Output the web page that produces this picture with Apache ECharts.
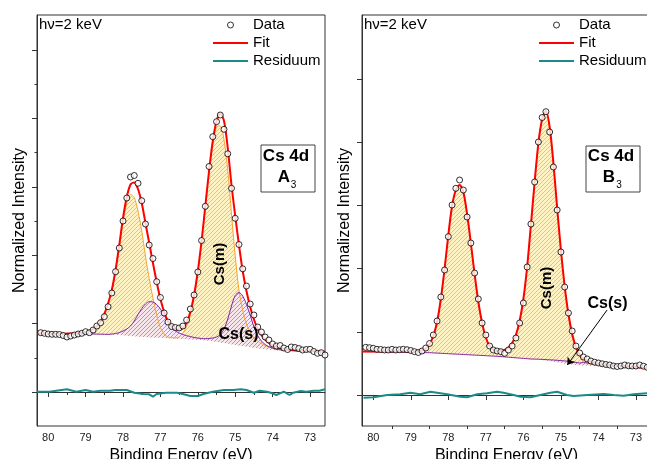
<!DOCTYPE html>
<html>
<head>
<meta charset="utf-8">
<title>Cs 4d</title>
<script src="https://cdn.jsdelivr.net/npm/echarts@6/dist/echarts.min.js"></script>
<style>
  html, body { margin: 0; padding: 0; background: #fff; }
  #main { width: 647px; height: 459px; }
</style>
</head>
<body>
<div id="main"></div>
<script>
// binding energy grid (eV), shared by both panels
const energy = [80.3, 80.2, 80.1, 80.0, 79.9, 79.8, 79.7, 79.6, 79.5, 79.4, 79.3, 79.2, 79.1, 79.0,
  78.9, 78.8, 78.7, 78.6, 78.5, 78.4, 78.3, 78.2, 78.1, 78.0, 77.9, 77.8, 77.7, 77.6, 77.5, 77.4,
  77.3, 77.2, 77.1, 77.0, 76.9, 76.8, 76.7, 76.6, 76.5, 76.4, 76.3, 76.2, 76.1, 76.0, 75.9, 75.8,
  75.7, 75.6, 75.5, 75.4, 75.3, 75.2, 75.1, 75.0, 74.9, 74.8, 74.7, 74.6, 74.5, 74.4, 74.3, 74.2,
  74.1, 74.0, 73.9, 73.8, 73.7, 73.6, 73.5, 73.4, 73.3, 73.2, 73.1, 73.0, 72.9, 72.8, 72.7, 72.6];

// panel A3
const dataA = [null, 59.3, 58.7, 58, 57.7, 57.7, 57.5, 56.5, 55, 56, 57, 58, 58.7, 60.3, 59.3, 62, 66, 69.3,
  75.3, 85.3, 99, 120.3, 144, 171, 194, 215, 216.5, 208.7, 191.3, 168, 147, 133.5, 110.3, 94.5, 79, 70,
  65.5, 64.5, 64, 66, 72, 83, 97, 120, 151.5, 185.7, 225.5, 255.3, 270.3, 277, 262.7, 238.2, 203.7, 173.7,
  147.5, 123.2, 106, 88, 77, 65, 60, 55, 52, 48, 46, 46.5, 44, 42.5, 45, 44.5, 43.5, 42, 42.5, 42.7,
  40.5, 38.7, 39.3, 37];
const fitA = [58.5, 58.5, 58.5, 58.4, 58.3, 58.3, 58.3, 58.3, 58.4, 58.5, 58.7, 59, 59.4, 60, 61, 62.8, 65.8,
  70.5, 78, 88.5, 102, 122, 147, 174, 195, 207.5, 209.5, 203, 189, 169, 149, 129, 110, 93, 80, 71, 66, 63,
  62.3, 64, 69.5, 80, 97, 121, 151, 186, 221, 251, 271, 278.5, 271, 244, 207, 176, 147, 121, 101, 85, 72.5,
  63.5, 57, 52.5, 49, 46.5, 45, 44, 43.2, 42.6, 42.2, 41.9, 41.6, 41.4, 41.2, 41, 40.8, 40.6, 40.4, 40.2];
const bgA = [58.5, 58.5, 58.5, 58.4, 58.3, 58.3, 58.2, 58.2, 58.2, 58.1, 58.1, 58.1, 58, 58, 58, 58, 57.9,
  57.8, 57.7, 57.6, 57.5, 57.3, 57, 56.7, 56.4, 56.1, 55.8, 55.5, 55.2, 55, 54.8, 54.6, 54.4, 54.2, 54,
  53.8, 53.6, 53.4, 53.2, 53, 52.8, 52.6, 52.4, 52.2, 52, 51.7, 51.3, 50.8, 50.2, 49.6, 49, 48.4, 47.8,
  47.2, 46.6, 46, 45.4, 44.8, 44.2, 43.7, 43.2, 42.8, 42.4, 42.1, 41.8, 41.6, 41.4, 41.2, 41.1, 41, 40.9,
  40.8, 40.7, 40.6, 40.5, 40.4, 40.3, 40.2];
const csmA = [58.5, 58.5, 58.5, 58.4, 58.3, 58.3, 58.3, 58.3, 58.4, 58.5, 58.7, 59, 59.4, 60, 61, 62.8, 65.8,
  70.5, 78, 88.5, 101.5, 121, 144.5, 170, 188.5, 197.5, 194.5, 181, 161, 136, 113.5, 94, 77, 64.5, 58, 55,
  54.5, 54, 55, 59, 65.5, 77, 95, 119, 149.5, 184.5, 219, 247.5, 265, 266, 252, 222, 178, 136, 102, 82, 68,
  60, 54, 51, 48.5, 46.5, 45, 44, 43.3, 42.7, 42.2, 41.9, 41.6, 41.4, 41.2, 41, 40.9, 40.8, 40.6, 40.5,
  40.3, 40.2];
const cssA = [58.5, 58.5, 58.5, 58.4, 58.3, 58.3, 58.2, 58.2, 58.2, 58.1, 58.1, 58.1, 58, 58, 58, 58, 57.9,
  57.8, 57.7, 57.6, 58, 58.5, 59.5, 61, 63, 66, 71, 77.5, 83.5, 88, 90.3, 90, 87.5, 83, 77, 70, 64.5, 61,
  59, 57.5, 56.3, 55.5, 54.5, 54, 53.5, 53.3, 53.5, 54, 55, 57.5, 63, 73, 86, 96.5, 99.5, 96, 87.5, 77, 65,
  56.5, 51, 47.5, 45.3, 43.8, 42.8, 42.2, 41.8, 41.5, 41.3, 41, 40.9, 40.8, 40.7, 40.6, 40.5, 40.4, 40.3,
  40.2];
const resEA = [80.3, 79.97, 79.5, 79.25, 79.0, 78.8, 78.6, 78.35, 78.2, 77.9, 77.7, 77.45, 77.3, 77.2, 77.1,
  76.85, 76.55, 76.4, 76.2, 76.0, 75.85, 75.6, 75.3, 75.05, 74.85, 74.7, 74.5, 74.35, 74.15, 74.0, 73.9,
  73.7, 73.55, 73.45, 73.25, 73.1, 72.9, 72.75, 72.6];
const resA = [0.3, 0.3, 2.7, 0.3, 2, 0.3, 1.3, 1.3, 2, 2, -0.7, -2, -2.3, -4.7, -2, -0.7, -0.7, -2, -4, -4,
  -2, 0.3, 2, 2, 2.7, 2, -0.7, 1.3, 0.3, -1.3, -3, 0.3, -3, -0.7, 1, 0.3, 1.3, 1.3, 2.7];

// panel B3
const dataB = [null, 47.7, 47.3, 46.7, 45.7, 45.5, 45, 45, 45.7, 45, 45.3, 45.7, 45.3, 44.5, 43.3, 42.5, 44,
  47, 51.5, 60, 74, 98, 125, 158.3, 190, 206.7, 215, 205, 178, 152, 122, 96, 72, 60, 49, 45, 44, 43.3, 41.7,
  45, 49, 57, 72, 92, 128, 171, 213, 253, 277.5, 283.3, 263, 228, 185, 143, 108, 82, 64, 49, 42, 38, 36, 34,
  32.8, 32, 31.2, 30.5, 30, 29, 28.5, 29, 30, 29.2, 29, 29, 30, 28.8, 27.7, null];
const fitB = [43.4, 43.4, 43.4, 43.4, 43.4, 43.4, 43.4, 43.4, 43.4, 43.4, 43.4, 43.4, 43.4, 43.5, 43.6, 43.9,
  44.6, 46.5, 51, 59, 73, 96, 126, 160, 189, 205, 210, 203, 181, 152, 121, 93, 72, 57.5, 49, 45.5, 44.3,
  44.2, 45, 47.5, 52, 60, 74, 96, 128, 170, 213, 252, 276, 284, 268, 232, 187, 145, 109, 81, 61, 48, 40.5,
  36.5, 34.5, 33, 32, 31.3, 30.8, 30.4, 30, 29.6, 29.2, 28.9, 28.6, 28.3, 28.1, 27.9, 27.6, 27.3, 27, 26.8];
const bgB = [43.4, 43.4, 43.3, 43.3, 43.2, 43.2, 43.1, 43.1, 43, 43, 42.9, 42.9, 42.8, 42.8, 42.7, 42.6, 42.5,
  42.4, 42.3, 42.1, 41.9, 41.7, 41.5, 41.3, 41.1, 40.9, 40.7, 40.5, 40.3, 40.1, 39.9, 39.7, 39.5, 39.3,
  39.1, 38.9, 38.7, 38.4, 38.1, 37.8, 37.5, 37.2, 36.9, 36.6, 36.3, 36, 35.7, 35.4, 35, 34.5, 34, 33.4,
  32.8, 32.2, 31.6, 31, 30.5, 30.1, 29.8, 29.6, 29.4, 29.2, 29.1, 29, 28.9, 28.8, 28.7, 28.6, 28.5, 28.4,
  28.3, 28.1, 27.9, 27.7, 27.5, 27.2, 26.9, 26.7];
const csmB = [43.4, 43.4, 43.4, 43.4, 43.4, 43.4, 43.4, 43.4, 43.4, 43.4, 43.4, 43.4, 43.4, 43.5, 43.6, 43.9,
  44.6, 46.5, 51, 59, 73, 96, 126, 160, 189, 205, 210, 203, 181, 152, 121, 93, 72, 57.5, 49, 45.5, 44.3,
  44.2, 45, 47.5, 52, 60, 74, 96, 128, 170, 213, 251.6, 275.4, 283.1, 266.8, 230.4, 185.1, 142.8, 106.5,
  78.3, 58.3, 45.5, 38.3, 33.6, 31.9, 30.8, 30.4, 30.3, 30.2, 30.1, 29.9, 29.6, 29.2, 28.9, 28.6, 28.3,
  28.1, 27.9, 27.6, 27.3, 27, 26.8];
const cssB = [43.4, 43.4, 43.3, 43.3, 43.2, 43.2, 43.1, 43.1, 43, 43, 42.9, 42.9, 42.8, 42.8, 42.7, 42.6, 42.5,
  42.4, 42.3, 42.1, 41.9, 41.7, 41.5, 41.3, 41.1, 40.9, 40.7, 40.5, 40.3, 40.1, 39.9, 39.7, 39.5, 39.3,
  39.1, 38.9, 38.7, 38.4, 38.1, 37.8, 37.5, 37.2, 36.9, 36.6, 36.3, 36, 35.9, 35.8, 35.6, 35.4, 35.2, 35,
  34.7, 34.4, 34.1, 33.7, 33.2, 32.6, 32, 32.5, 32, 31.4, 30.7, 30, 29.5, 29.1, 28.8, 28.6, 28.5, 28.4,
  28.3, 28.1, 27.9, 27.7, 27.5, 27.2, 26.9, 26.7];
const resEB = [80.26, 79.99, 79.63, 79.28, 79.01, 78.75, 78.48, 78.3, 78.03, 77.68, 77.5, 77.23, 76.97, 76.7,
  76.53, 76.26, 76.08, 75.81, 75.55, 75.28, 75.1, 74.84, 74.66, 74.3, 73.86, 73.59, 73.33, 73.06, 72.7];
const resB = [-2.7, -2.3, 0, 0.7, 2.3, 0.7, 3.3, 2.3, 0.7, -1.7, -2.3, 0.7, 1.7, 3.3, 2.3, 0, -1.7, -2.3, 0,
  2.3, 3.3, 0, -1, 0, 1, 0, -0.7, 0.7, 1.7];

// ticks
const xMajor = [73, 74, 75, 76, 77, 78, 79, 80];
const xMinor = [73.5, 74.5, 75.5, 76.5, 77.5, 78.5, 79.5];
const yMajorA = [0, 68.4, 136.8, 205.2, 273.6, 342];
const yMinorA = [34.2, 102.6, 171, 239.4, 307.8];
const yTicksB = [0, 63.2, 126.4, 189.6, 252.8, 316];

// arrow for Cs(s) in panel B (data coords)
const arrowB = [[73.77, 85], [74.83, 30]];

const FONT = '"Liberation Sans", Arial, sans-serif';

// small diagonal hatch tile
function hatch(bg, line) {
  const c = document.createElement('canvas');
  c.width = 4; c.height = 4;
  const g = c.getContext('2d');
  g.fillStyle = bg;
  g.fillRect(0, 0, 4, 4);
  g.strokeStyle = line;
  g.lineWidth = 1;
  g.beginPath();
  g.moveTo(0, 4); g.lineTo(4, 0);
  g.moveTo(-1, 1); g.lineTo(1, -1);
  g.moveTo(3, 5); g.lineTo(5, 3);
  g.stroke();
  return { image: c, repeat: 'repeat' };
}
const orangeFill = hatch('rgba(255,238,175,0.75)', 'rgba(250,186,55,0.85)');
const purpleFill = hatch('rgba(242,222,255,0.65)', 'rgba(190,110,250,0.85)');

function pairs(ys) {
  return energy.map(function (e, i) { return [e, ys[i]]; }).filter(function (p) { return p[1] != null; });
}

// filled area between a component and the background
function band(xi, yi, top, base, fill) {
  return {
    type: 'custom', xAxisIndex: xi, yAxisIndex: yi, z: 1, silent: true,
    data: [[energy[0], top[0]]],
    renderItem: function (params, api) {
      const pts = energy.map(function (e, i) { return api.coord([e, top[i]]); });
      for (let i = energy.length - 1; i >= 0; i--) pts.push(api.coord([energy[i], base[i]]));
      return { type: 'polygon', shape: { points: pts }, style: { fill: fill } };
    }
  };
}

function line(name, xi, yi, xs, ys, color, width, z) {
  return {
    name: name, type: 'line', xAxisIndex: xi, yAxisIndex: yi, z: z,
    data: xs.map(function (e, i) { return [e, ys[i]]; }),
    symbol: 'none', smooth: 0.3, silent: true,
    lineStyle: { color: color, width: width },
    itemStyle: { color: color }
  };
}

function panelSeries(xi, yi, data, fit, bg, csm, css, resE, res) {
  return [
    band(xi, yi, csm, bg, orangeFill),
    band(xi, yi, css, bg, purpleFill),
    line('Cs(m)', xi, yi, energy, csm, '#f7a531', 1, 2),
    line('Cs(s)', xi, yi, energy, css, '#86229f', 1, 2),
    line('Fit', xi, yi, energy, fit, '#ff0000', 2, 3),
    {
      name: 'Data', type: 'scatter', xAxisIndex: xi, yAxisIndex: yi, z: 4,
      data: pairs(data), symbol: 'circle', symbolSize: 6, silent: true,
      itemStyle: { color: '#fff', borderColor: '#000', borderWidth: 1 }
    },
    Object.assign(line('Residuum', xi, yi, resE, res, '#1b8a8a', 2, 3), { smooth: false })
  ];
}

function xAxes(grid, max) {
  return [{
    gridIndex: grid, type: 'value', position: 'bottom', inverse: true, min: 72.6, max: max,
    name: 'Binding Energy (eV)', nameLocation: 'middle', nameGap: 17,
    nameTextStyle: { fontSize: 16, color: '#000', fontFamily: FONT },
    axisLine: { lineStyle: { color: '#333' } },
    axisTick: { customValues: xMajor, length: 5, lineStyle: { color: '#333' } },
    axisLabel: { customValues: xMajor, fontSize: 11, color: '#222', margin: 6, fontFamily: FONT },
    splitLine: { show: false }
  }, {
    gridIndex: grid, type: 'value', position: 'bottom', inverse: true, min: 72.6, max: max,
    axisLine: { show: false },
    axisTick: { customValues: xMinor, length: 3, lineStyle: { color: '#333' } },
    axisLabel: { show: false },
    splitLine: { show: false }
  }];
}

function yAxis(grid, min, max, ticks, len, withName) {
  return {
    gridIndex: grid, type: 'value', position: 'left', min: min, max: max,
    name: withName ? 'Normalized Intensity' : '', nameLocation: 'middle', nameGap: 9,
    nameTextStyle: { fontSize: 16, color: '#000', fontFamily: FONT },
    axisLine: { show: withName, lineStyle: { color: '#333' } },
    axisTick: { customValues: ticks, length: len, lineStyle: { color: '#333' } },
    axisLabel: { show: false },
    splitLine: { show: false }
  };
}

// flat bar icon for the line entries
const LINE_ICON = 'path://M0,0L35,0L35,2L0,2Z';

function legend(left) {
  return {
    left: left, top: 17.5, padding: 0, orient: 'vertical',
    itemWidth: 35, itemHeight: 6, itemGap: 3, selectedMode: false,
    data: [
      { name: 'Data', icon: 'circle', itemStyle: { color: '#fff', borderColor: '#000', borderWidth: 1 } },
      { name: 'Fit', icon: LINE_ICON },
      { name: 'Residuum', icon: LINE_ICON }
    ],
    textStyle: { fontSize: 15, color: '#000', fontFamily: FONT }
  };
}

function txt(x, y, s, font, extra) {
  return Object.assign({
    type: 'text', x: x, y: y, z: 100,
    style: { text: s, font: font, fill: '#000', textAlign: 'center', textVerticalAlign: 'middle' }
  }, extra || {});
}

function leftTxt(x, y, s, font) {
  return {
    type: 'text', x: x, y: y, z: 100,
    style: { text: s, font: font, fill: '#000', textAlign: 'left', textVerticalAlign: 'middle' }
  };
}

const chart = echarts.init(document.getElementById('main'), null, { renderer: 'canvas' });

const rightB = panelSeries(2, 2, dataB, fitB, bgB, csmB, cssB, resEB, resB);
// arrow pointing at the small Cs(s) component
rightB[3].markLine = {
  silent: true, symbol: ['none', 'arrow'], symbolSize: 7,
  lineStyle: { color: '#000', width: 1, type: 'solid' }, label: { show: false },
  data: [[{ coord: arrowB[0] }, { coord: arrowB[1] }]]
};

chart.setOption({
  animation: false,
  backgroundColor: '#fff',
  textStyle: { fontFamily: FONT },
  grid: [
    { left: 37, top: 15, width: 288, height: 411, show: true, borderColor: '#333', borderWidth: 1,
      containLabel: false, outerBoundsMode: 'none' },
    { left: 362, top: 15, width: 289, height: 411, show: true, borderColor: '#333', borderWidth: 1,
      containLabel: false, outerBoundsMode: 'none' }
  ],
  xAxis: xAxes(0, 80.3).concat(xAxes(1, 80.3)),
  yAxis: [
    yAxis(0, -34, 377, yMajorA, 5, true),
    yAxis(0, -34, 377, yMinorA, 2.5, false),
    yAxis(1, -31, 380, yTicksB, 5, true)
  ],
  legend: [legend(213), legend(539)],
  series: panelSeries(0, 0, dataA, fitA, bgA, csmA, cssA, resEA, resA).concat(rightB),
  graphic: [
    leftTxt(39, 25, 'hν=2 keV', '15px ' + FONT),
    leftTxt(364, 25, 'hν=2 keV', '15px ' + FONT),
    { type: 'rect', z: 99, shape: { x: 261, y: 145, width: 54, height: 47 }, style: { fill: '#fff', stroke: '#444', lineWidth: 1 } },
    txt(286, 156, 'Cs 4d', 'bold 17px ' + FONT),
    txt(284, 177, 'A', 'bold 17px ' + FONT),
    txt(293.5, 185, '3', '10px ' + FONT),
    { type: 'rect', z: 99, shape: { x: 586, y: 146, width: 54, height: 46 }, style: { fill: '#fff', stroke: '#444', lineWidth: 1 } },
    txt(611, 156, 'Cs 4d', 'bold 17px ' + FONT),
    txt(609, 177, 'B', 'bold 17px ' + FONT),
    txt(619, 185, '3', '10px ' + FONT),
    txt(219.5, 264, 'Cs(m)', 'bold 15px ' + FONT, { rotation: Math.PI / 2 }),
    txt(546.5, 288, 'Cs(m)', 'bold 15px ' + FONT, { rotation: Math.PI / 2 }),
    txt(238.5, 335, 'Cs(s)', 'bold 16px ' + FONT),
    txt(607.5, 303.5, 'Cs(s)', 'bold 16px ' + FONT)
  ]
});
</script>
</body>
</html>
